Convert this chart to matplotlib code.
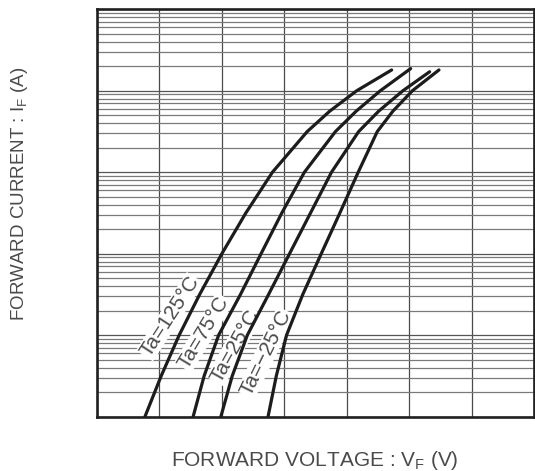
import numpy as np
import matplotlib
matplotlib.use("Agg")
import matplotlib.pyplot as plt

plt.rcParams['font.family'] = ['Liberation Sans', 'DejaVu Sans']
plt.rcParams['mathtext.fontset'] = 'custom'
plt.rcParams['mathtext.rm'] = 'Liberation Sans'

# forward current (A) steps, and forward voltage (V)
if_pts = [1e-4, 3.16e-4, 1e-3, 3.16e-3, 1e-2, 3.16e-2, 0.1, 0.316, 0.562, 1.0]

vf_125 = [0.384, 0.514, 0.658, 0.822, 1.000, 1.192, 1.405, 1.684, 1.864, 2.080, 2.360]
vf_75 = [0.770, 0.858, 0.974, 1.149, 1.314, 1.480, 1.661, 1.910, 2.076, 2.269, 2.512]
vf_25 = [0.992, 1.083, 1.204, 1.374, 1.542, 1.710, 1.878, 2.096, 2.256, 2.450, 2.664]
vf_m25 = [1.370, 1.436, 1.518, 1.648, 1.796, 1.945, 2.092, 2.245, 2.370, 2.526, 2.739]

# end point current of each curve
if_end = [1.80, 1.87, 1.71, 1.80]

labels = ['Ta=125°C', 'Ta=75°C', 'Ta=25°C', 'Ta=\u221225°C']
label_v = [0.584, 0.856, 1.104, 1.352]
label_i = [1.69e-3, 1.08e-3, 7.4e-4, 6.05e-4]
label_rot = [57, 59, 61, 64]

fig = plt.figure(figsize=(5.35, 4.71), dpi=100)
ax = fig.add_axes([0.1813, 0.1153, 0.8168, 0.865])

ax.set_yscale('log')
ax.set_xlim(0, 3.5)
ax.set_ylim(1e-4, 10)
ax.set_xticks(np.arange(0, 3.51, 0.5))
ax.yaxis.set_minor_locator(matplotlib.ticker.LogLocator(base=10, subs=np.arange(2, 10)))
ax.grid(True, axis='x', which='major', color='#4a4a4a', lw=0.9)
ax.grid(True, axis='y', which='major', color='#555555', lw=0.9)
ax.grid(True, axis='y', which='minor', color='#7a7a7a', lw=0.9)
ax.tick_params(which='both', length=0, labelleft=False, labelbottom=False)
for s in ax.spines.values():
    s.set_linewidth(1.9)
    s.set_color('#202020')

for v, e in zip([vf_125, vf_75, vf_25, vf_m25], if_end):
    ax.plot(v, if_pts + [e], color='#1c1c1c', lw=2.3,
            solid_capstyle='round', solid_joinstyle='round', zorder=4)

for t, v, i, r in zip(labels, label_v, label_i, label_rot):
    ax.text(v, i, t, rotation=r, rotation_mode='anchor', ha='center', va='center',
            fontsize=15, color='#4a4a4a', zorder=3,
            bbox=dict(facecolor='white', edgecolor='none', pad=0.5))

fig.text(0.036, 0.588, 'FORWARD CURRENT : I$_{\\mathregular{F}}$ (A)', rotation=90,
         ha='center', va='center', fontsize=13.5, color='#4a4a4a')
fig.text(0.588, 0.022, 'FORWARD VOLTAGE : V$_{\\mathregular{F}}$ (V)',
         ha='center', va='center', fontsize=15, color='#4a4a4a')

fig.savefig('out.png', dpi=100)
